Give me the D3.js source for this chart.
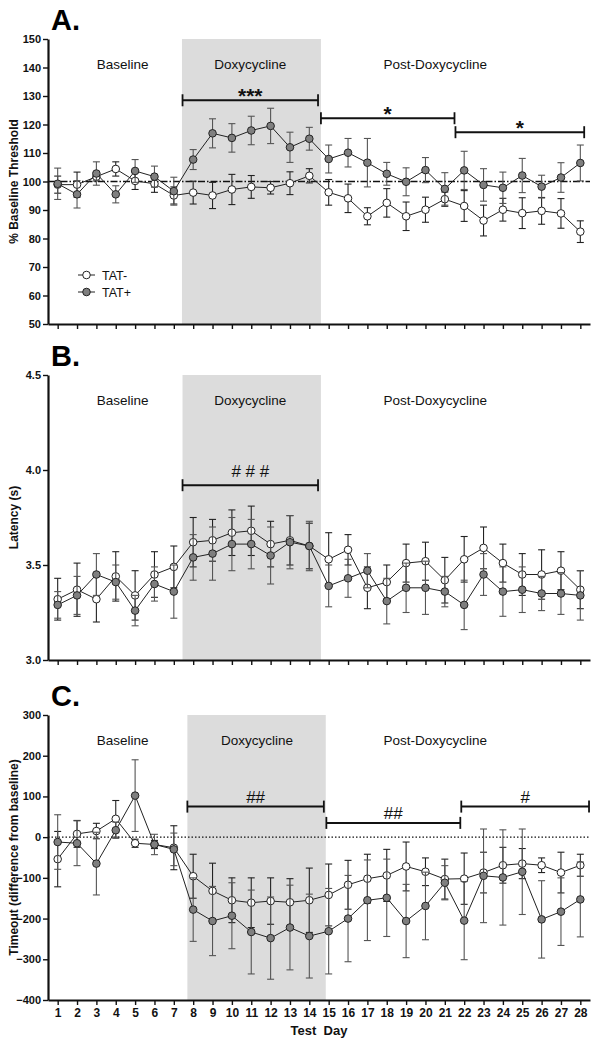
<!DOCTYPE html>
<html>
<head>
<meta charset="utf-8">
<script src="https://cdn.jsdelivr.net/npm/d3@7"></script>
<style>
body { margin: 0; background: #fff; }
text { font-family: Arial, "Liberation Sans", sans-serif; }
</style>
</head>
<body>
<svg width="600" height="1046"></svg>
<script>
var svg = d3.select('svg'),
    left = 48,
    right = 590;

// test days
var days = [1, 2, 3, 4, 5, 6, 7, 8, 9, 10, 11, 12, 13, 14, 15, 16, 17, 18, 19, 20, 21, 22, 23, 24, 25, 26, 27, 28];
var phases = ['Baseline', 'Doxycycline', 'Post-Doxycycline'];
var groups = ['TAT-', 'TAT+'];

// A. % baseline threshold (mean, sem)
var threshNeg = [98.9, 98.9, 101.7, 104.4, 100.2, 99.2, 95.1, 96.1, 95.1, 97.2, 98.1, 97.8, 99.4, 102.0, 96.2, 94.1, 87.8, 92.5, 87.8, 90.1, 93.8, 91.4, 86.3, 90.1, 88.9, 89.7, 88.8, 82.4];
var threshNegErr = [3.0, 4.4, 1.5, 2.5, 3.0, 3.0, 3.0, 4.0, 4.6, 5.3, 4.0, 2.2, 4.0, 2.5, 4.5, 5.0, 3.0, 5.0, 5.0, 4.4, 2.5, 5.4, 5.4, 4.0, 5.4, 4.7, 5.2, 3.8];
var threshPos = [99.2, 95.5, 102.8, 95.5, 103.7, 101.7, 96.6, 107.7, 116.9, 115.3, 117.9, 119.5, 112.0, 115.0, 107.9, 110.1, 106.6, 102.7, 99.9, 104.0, 97.4, 103.9, 98.8, 97.8, 102.1, 98.2, 101.4, 106.5];
var threshPosErr = [5.5, 4.8, 4.1, 3.0, 4.0, 3.7, 4.9, 3.5, 5.1, 5.0, 5.0, 6.2, 5.3, 4.0, 4.9, 5.0, 8.5, 4.0, 4.9, 4.4, 5.7, 6.7, 5.7, 5.5, 6.0, 4.0, 5.2, 6.3];

// B. latency (s)
var latNeg = [3.32, 3.37, 3.32, 3.44, 3.34, 3.45, 3.49, 3.62, 3.63, 3.67, 3.68, 3.61, 3.63, 3.60, 3.53, 3.58, 3.38, 3.41, 3.51, 3.52, 3.42, 3.53, 3.59, 3.51, 3.45, 3.45, 3.47, 3.37];
var latNegErr = [0.11, 0.14, 0.12, 0.13, 0.13, 0.12, 0.11, 0.13, 0.11, 0.12, 0.13, 0.12, 0.13, 0.12, 0.14, 0.08, 0.11, 0.09, 0.10, 0.10, 0.12, 0.12, 0.11, 0.10, 0.11, 0.13, 0.10, 0.10];
var latPos = [3.29, 3.34, 3.45, 3.41, 3.26, 3.40, 3.36, 3.54, 3.56, 3.61, 3.61, 3.55, 3.62, 3.60, 3.39, 3.43, 3.47, 3.31, 3.38, 3.38, 3.36, 3.29, 3.45, 3.36, 3.37, 3.35, 3.35, 3.34];
var latPosErr = [0.07, 0.10, 0.11, 0.09, 0.08, 0.09, 0.14, 0.12, 0.14, 0.14, 0.13, 0.15, 0.14, 0.13, 0.11, 0.10, 0.09, 0.12, 0.13, 0.14, 0.08, 0.13, 0.11, 0.13, 0.12, 0.09, 0.11, 0.13];

// C. timeout (difference from baseline)
var timeNeg = [-54, 8, 15, 45, -15, -18, -26, -96, -132, -155, -161, -157, -160, -155, -142, -117, -102, -94, -72, -85, -103, -102, -87, -69, -65, -69, -87, -69];
var timeNegErr = [68, 33, 19, 45, 10, 10, 54, 54, 68, 55, 61, 57, 58, 79, 76, 60, 60, 64, 60, 34, 49, 63, 50, 44, 37, 18, 50, 27];
var timePos = [-12, -15, -65, 17, 102, -18, -30, -178, -206, -193, -233, -248, -222, -243, -231, -200, -155, -149, -206, -169, -112, -205, -95, -99, -85, -202, -183, -153];
var timePosErr = [67, 55, 77, 20, 88, 25, 40, 78, 85, 81, 103, 101, 104, 103, 105, 106, 99, 95, 90, 83, 42, 96, 115, 117, 105, 95, 83, 92];

var x = d3.scaleLinear().domain([0.5, 28.5]).range([left, right]);

var panels = [
    {
        letter: 'A.', top: 39, bottom: 324, domain: [50, 150],
        ticks: [50, 60, 70, 80, 90, 100, 110, 120, 130, 140, 150], fmt: d3.format('d'),
        title: '% Baseline Threshold', ref: 100, refDash: '7,2,1.5,2',
        shade: [7.42, 14.6], labelX: [4.35, 10.95, 20.5],
        bars: [
            { x0: 7.45, x1: 14.45, v: 128.5, label: '***' },
            { x0: 14.6, x1: 21.5, v: 122.2, label: '*' },
            { x0: 21.55, x1: 28.2, v: 117.3, label: '*' }
        ],
        neg: threshNeg, negErr: threshNegErr, pos: threshPos, posErr: threshPosErr,
        legend: true, xLabels: false
    },
    {
        letter: 'B.', top: 375, bottom: 660, domain: [3.0, 4.5],
        ticks: [3.0, 3.5, 4.0, 4.5], fmt: d3.format('.1f'),
        title: 'Latency (s)', ref: null,
        shade: [7.45, 14.6], labelX: [4.35, 10.95, 20.5],
        bars: [
            { x0: 7.45, x1: 14.45, v: 3.92, label: '# # #' }
        ],
        neg: latNeg, negErr: latNegErr, pos: latPos, posErr: latPosErr,
        legend: false, xLabels: false
    },
    {
        letter: 'C.', top: 715, bottom: 1000, domain: [-400, 300],
        ticks: [-400, -300, -200, -100, 0, 100, 200, 300], fmt: d3.format('d'),
        title: 'Timeout (difference from baseline)', ref: 0, refDash: '1.5,2',
        shade: [7.7, 14.85], labelX: [4.35, 11.3, 20.5],
        bars: [
            { x0: 7.7, x1: 14.75, v: 75, label: '##' },
            { x0: 14.88, x1: 21.8, v: 35, label: '##' },
            { x0: 21.85, x1: 28.45, v: 75, label: '#' }
        ],
        neg: timeNeg, negErr: timeNegErr, pos: timePos, posErr: timePosErr,
        legend: false, xLabels: true
    }
];

panels.forEach(drawPanel);

function drawPanel(p) {
    var y = d3.scaleLinear().domain(p.domain).range([p.bottom, p.top]);
    var g = svg.append('g');

    // shaded doxycycline window
    g.append('rect')
        .attr('x', x(p.shade[0]))
        .attr('width', x(p.shade[1]) - x(p.shade[0]))
        .attr('y', p.top)
        .attr('height', p.bottom - p.top)
        .attr('fill', '#dcdcdc');

    // phase labels
    g.selectAll('.phase').data(phases).enter().append('text')
        .attr('x', function (d, i) { return x(p.labelX[i]); })
        .attr('y', p.top + 30)
        .attr('text-anchor', 'middle')
        .attr('font-size', '13.5px')
        .attr('fill', '#111')
        .text(function (d) { return d; });

    // reference line
    if (p.ref !== null) {
        g.append('line')
            .attr('x1', left).attr('x2', right)
            .attr('y1', y(p.ref)).attr('y2', y(p.ref))
            .attr('stroke', '#111')
            .attr('stroke-width', 1.3)
            .attr('stroke-dasharray', p.refDash);
    }

    // significance bars
    var hash = p.letter !== 'A.';
    p.bars.forEach(function (b) {
        var by = y(b.v);
        g.append('line').attr('x1', x(b.x0)).attr('x2', x(b.x1)).attr('y1', by).attr('y2', by)
            .attr('stroke', '#111').attr('stroke-width', 2);
        [b.x0, b.x1].forEach(function (e) {
            g.append('line').attr('x1', x(e)).attr('x2', x(e)).attr('y1', by - 6).attr('y2', by + 6)
                .attr('stroke', '#111').attr('stroke-width', 1.8);
        });
        g.append('text')
            .attr('x', (x(b.x0) + x(b.x1)) / 2)
            .attr('y', hash ? by - (p.letter === 'B.' ? 8 : 4) : by + 3)
            .attr('text-anchor', 'middle')
            .attr('font-size', hash ? '17px' : '21px')
            .attr('font-weight', hash ? 'normal' : 'bold')
            .attr('fill', '#111')
            .text(b.label);
    });

    // series: TAT- first, TAT+ on top
    var series = [
        { name: groups[0], vals: p.neg, err: p.negErr, fill: '#fff', errColor: '#222' },
        { name: groups[1], vals: p.pos, err: p.posErr, fill: '#7f7f7f', errColor: '#555' }
    ];

    var line = d3.line()
        .x(function (d) { return x(d.day); })
        .y(function (d) { return y(d.v); });

    series.forEach(function (s) {
        var pts = days.map(function (d, i) { return { day: d, v: s.vals[i], e: s.err[i] }; });
        var eb = g.append('g').attr('stroke', s.errColor).attr('stroke-width', 1.1);
        pts.forEach(function (d) {
            var cx = x(d.day), y0 = y(d.v - d.e), y1 = y(d.v + d.e);
            eb.append('line').attr('x1', cx).attr('x2', cx).attr('y1', y0).attr('y2', y1);
            eb.append('line').attr('x1', cx - 3.5).attr('x2', cx + 3.5).attr('y1', y0).attr('y2', y0);
            eb.append('line').attr('x1', cx - 3.5).attr('x2', cx + 3.5).attr('y1', y1).attr('y2', y1);
        });
        g.append('path').datum(pts)
            .attr('d', line)
            .attr('fill', 'none')
            .attr('stroke', '#222')
            .attr('stroke-width', 1);
        g.selectAll(null).data(pts).enter().append('circle')
            .attr('cx', function (d) { return x(d.day); })
            .attr('cy', function (d) { return y(d.v); })
            .attr('r', 3.8)
            .attr('fill', s.fill)
            .attr('stroke', '#222')
            .attr('stroke-width', 1);
    });

    // axes
    var yAxis = g.append('g')
        .attr('transform', 'translate(' + left + ',0)')
        .call(d3.axisLeft(y).tickValues(p.ticks).tickFormat(p.fmt).tickSize(5).tickSizeOuter(0).tickPadding(2));
    var xAxis = g.append('g')
        .attr('transform', 'translate(0,' + p.bottom + ')')
        .call(d3.axisBottom(x).tickValues(days).tickSize(5).tickSizeOuter(0).tickPadding(3)
            .tickFormat(p.xLabels ? d3.format('d') : ''));
    [yAxis, xAxis].forEach(function (a) {
        a.select('.domain').attr('stroke', '#111').attr('stroke-width', 2.2);
        a.selectAll('.tick line').attr('stroke', '#111').attr('stroke-width', 1.4);
        a.selectAll('.tick text').attr('fill', '#111').attr('font-weight', 'bold')
            .attr('font-family', 'Arial, "Liberation Sans", sans-serif');
    });
    yAxis.selectAll('.tick text').attr('font-size', '11px');
    xAxis.selectAll('.tick text').attr('font-size', '12px');

    // y title
    g.append('text')
        .attr('transform', 'translate(18,' + (p.top + p.bottom) / 2 + ') rotate(-90)')
        .attr('text-anchor', 'middle')
        .attr('font-size', '12px')
        .attr('font-weight', 'bold')
        .attr('fill', '#111')
        .text(p.title);

    // panel letter
    g.append('text')
        .attr('x', 51)
        .attr('y', p.top - 9)
        .attr('font-size', '29px')
        .attr('font-weight', 'bold')
        .attr('fill', '#000')
        .text(p.letter);

    if (p.legend) {
        var lg = g.append('g');
        series.forEach(function (s, i) {
            var ly = 275 + i * 17;
            lg.append('line').attr('x1', 78).attr('x2', 95).attr('y1', ly).attr('y2', ly)
                .attr('stroke', '#222').attr('stroke-width', 1);
            lg.append('circle').attr('cx', 86.5).attr('cy', ly).attr('r', 3.8)
                .attr('fill', s.fill).attr('stroke', '#222');
            lg.append('text').attr('x', 102).attr('y', ly + 4.5)
                .attr('font-size', '12.5px').attr('fill', '#111').text(s.name);
        });
    }

    if (p.xLabels) {
        g.append('text')
            .attr('x', (left + right) / 2)
            .attr('y', 1035)
            .attr('text-anchor', 'middle')
            .attr('font-size', '13px')
            .attr('font-weight', 'bold')
            .attr('fill', '#111')
            .attr('xml:space', 'preserve')
            .text('Test  Day');
    }
}
</script>
</body>
</html>
